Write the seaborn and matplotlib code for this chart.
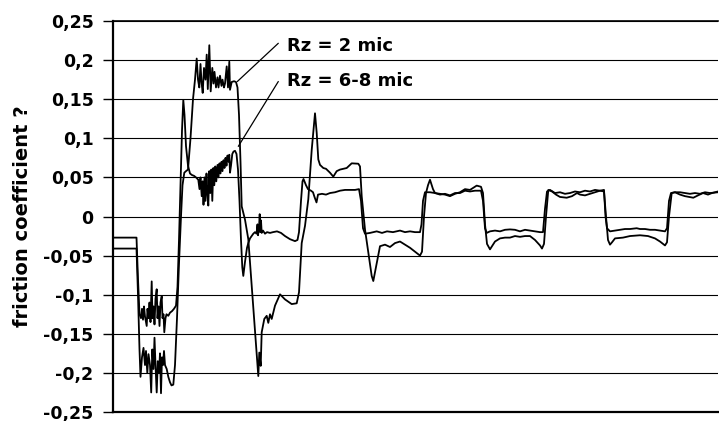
import matplotlib
matplotlib.use("Agg")
import matplotlib.pyplot as plt
import seaborn as sns
import pandas as pd

# ---- data (time in arbitrary units, friction coefficient) ----
t_rz2 = [0, 23.5, 25, 26.5, 27.5, 29, 30.5, 32, 33, 34.3, 35.5, 37, 38.2, 39.3, 40.5, 41.5, 42.5,
         43.7, 44.8, 46, 47, 48, 49, 50, 51, 52, 53.7, 55.3, 57, 58.5, 60.3, 62, 64, 66, 68, 69.5,
         71.3, 73, 75, 77.5, 80, 82, 83.7, 85, 86.3, 87.5, 88.5, 89.7, 91, 92.5, 93.7, 94.8, 96.3,
         97.7, 99.3, 100.5, 101.5, 103, 104.5, 105.5, 107, 108.5, 109.5, 111, 112, 113.7, 115,
         116.3, 117, 118.7, 121, 123, 124.5, 126, 127.5, 128.7, 132, 135.3, 138.7, 142, 145.3,
         146.3, 147.7, 148.7, 151.3, 153.7, 155.3, 157, 158.7, 162, 167, 172, 178.7, 183.7, 186,
         188.7, 192, 195.3, 198.7, 202, 203.7, 205.3, 207, 210.3, 213, 217, 220.3, 223.7, 227,
         233.7, 238.7, 245.3, 247, 248.7, 252, 255.3, 258.7, 260.3, 263.7, 267, 272, 277, 282,
         287, 292, 297, 302, 307, 309, 311, 313, 315, 317, 320, 322, 327, 332, 337, 342, 347, 352,
         357, 363.7, 368, 370, 372, 374, 377, 382, 387, 392, 397, 402, 407, 412, 417, 422, 427,
         429, 431, 433, 435.3, 439, 443, 447, 453.7, 459, 464, 467, 472, 477, 482, 487, 491, 493,
         495, 497, 499, 502, 510, 517, 527, 535, 542, 547, 552, 554, 556, 558.7, 562, 567, 572,
         580.3, 585, 590, 595, 599, 605]
mu_rz2 = [-0.041, -0.041, -0.10, -0.17, -0.205, -0.18, -0.168, -0.19, -0.172, -0.20, -0.176,
          -0.19, -0.225, -0.17, -0.195, -0.155, -0.19, -0.225, -0.185, -0.20, -0.175, -0.226,
          -0.18, -0.19, -0.172, -0.19, -0.195, -0.205, -0.212, -0.216, -0.215, -0.19, -0.13,
          -0.06, 0.0, 0.04, 0.056, 0.058, 0.06, 0.10, 0.15, 0.175, 0.202, 0.175, 0.165, 0.195,
          0.172, 0.158, 0.19, 0.175, 0.207, 0.163, 0.219, 0.16, 0.19, 0.17, 0.185, 0.165, 0.178,
          0.165, 0.18, 0.167, 0.175, 0.165, 0.17, 0.192, 0.165, 0.198, 0.162, 0.172, 0.173,
          0.172, 0.165, 0.13, 0.07, 0.013, -0.004, -0.029, -0.089, -0.148, -0.204, -0.174,
          -0.191, -0.148, -0.131, -0.127, -0.136, -0.125, -0.131, -0.114, -0.0995, -0.106,
          -0.112, -0.111, -0.097, -0.034, -0.012, 0.022, 0.085, 0.132, 0.107, 0.073, 0.066,
          0.062, 0.061, 0.056, 0.051, 0.058, 0.060, 0.062, 0.068, 0.0675, 0.064, 0.026, -0.0166,
          -0.046, -0.076, -0.0825, -0.06, -0.038, -0.036, -0.039, -0.034, -0.032, -0.036, -0.040,
          -0.045, -0.050, -0.045, 0.0, 0.030, 0.040, 0.047, 0.035, 0.030, 0.029, 0.028, 0.026,
          0.029, 0.031, 0.035, 0.034, 0.0395, 0.038, 0.030, -0.010, -0.035, -0.042, -0.032,
          -0.028, -0.027, -0.027, -0.025, -0.026, -0.025, -0.025, -0.030, -0.037, -0.041, -0.035,
          0.0, 0.034, 0.032, 0.028, 0.025, 0.024, 0.026, 0.030, 0.028, 0.027, 0.029, 0.031,
          0.033, 0.032, 0.0, -0.030, -0.036, -0.033, -0.028, -0.027, -0.025, -0.024, -0.025,
          -0.028, -0.032, -0.037, -0.033, 0.0, 0.030, 0.031, 0.028, 0.026, 0.024, 0.027, 0.030,
          0.028, 0.030, 0.032]

t_rz68 = [0, 23.5, 25, 26.5, 28, 29, 30, 31, 32, 33.7, 34.5, 35.5, 36.5, 37.5, 38.7, 39.5, 40.5,
          41.5, 42.5, 43.7, 44.5, 45.5, 46.5, 47.5, 48.7, 49.5, 50.5, 51.3, 52.5, 53.5, 55.3, 57,
          59, 61, 63, 64.5, 66, 67.5, 69, 70.3, 71.5, 73, 75, 77, 79, 81, 83, 85.3, 86.5, 87.5,
          88.7, 89.7, 90.5, 91.5, 92.5, 93.5, 94.5, 95.3, 96.3, 97.3, 98.3, 99.3, 100.3, 101.3,
          102.3, 103.3, 104.5, 105.5, 106.5, 107.5, 108.5, 109.5, 110.5, 111.5, 112.5, 113.5,
          114.5, 115.5, 116.3, 117, 118, 119.3, 120.5, 122, 123.5, 125, 126.5, 128, 129.3, 130.3,
          132, 134, 135.3, 137, 138.7, 140.3, 142, 143.5, 144.5, 145, 146, 146.7, 147.3, 148,
          148.7, 150, 152, 154, 157, 160, 164, 168, 172, 177, 182, 184.5, 186, 188, 189.5, 190.5,
          193, 195, 198, 200, 201.5, 203.5, 205, 209, 213, 217, 222, 227, 232, 237, 242, 246, 248,
          250, 252, 257, 263.7, 269, 274, 280, 287, 292, 297, 302, 307, 308.5, 310, 312, 317, 322,
          327, 332, 337, 342, 347, 352, 357, 362, 368, 370, 372, 373.7, 377, 382, 387, 392, 397,
          402, 407, 412, 417, 422, 427, 430, 432, 434, 437, 442, 447, 452, 457, 462, 467, 472,
          477, 482, 487, 491, 492.5, 494, 497, 502, 507, 512, 517, 523.7, 527, 532, 537, 542, 547,
          552, 554, 556, 558, 562, 567, 572, 577, 582, 587, 592, 597, 605]
mu_rz68 = [-0.027, -0.027, -0.08, -0.125, -0.13, -0.118, -0.132, -0.115, -0.128, -0.14, -0.118,
           -0.13, -0.11, -0.135, -0.083, -0.13, -0.115, -0.138, -0.105, -0.093, -0.13, -0.115,
           -0.14, -0.11, -0.102, -0.13, -0.125, -0.148, -0.13, -0.125, -0.127, -0.123, -0.121,
           -0.118, -0.114, -0.09, -0.03, 0.04, 0.11, 0.149, 0.13, 0.09, 0.065, 0.055, 0.053,
           0.052, 0.05, 0.047, 0.035, 0.05, 0.026, 0.045, 0.015, 0.05, 0.02, 0.055, 0.028, 0.014,
           0.058, 0.03, 0.06, 0.02, 0.062, 0.04, 0.064, 0.045, 0.066, 0.05, 0.068, 0.055, 0.07,
           0.058, 0.072, 0.062, 0.075, 0.065, 0.078, 0.07, 0.079, 0.056, 0.065, 0.08, 0.083,
           0.084, 0.08, 0.06, 0.02, -0.03, -0.065, -0.076, -0.058, -0.04, -0.034, -0.028, -0.025,
           -0.022, -0.020, -0.022, -0.01, -0.024, -0.015, 0.003, -0.02, -0.005, -0.021, -0.018,
           -0.022, -0.020, -0.021, -0.020, -0.019, -0.021, -0.025, -0.029, -0.0315, -0.03, -0.02,
           0.02, 0.045, 0.048, 0.040, 0.035, 0.033, 0.031, 0.025, 0.018, 0.028, 0.029, 0.028,
           0.030, 0.031, 0.033, 0.034, 0.034, 0.034, 0.035, 0.020, -0.015, -0.022, -0.021, -0.019,
           -0.021, -0.019, -0.020, -0.018, -0.020, -0.019, -0.020, -0.020, -0.010, 0.020, 0.031,
           0.031, 0.030, 0.028, 0.029, 0.027, 0.030, 0.030, 0.033, 0.032, 0.033, 0.033, 0.020,
           -0.015, -0.021, -0.019, -0.018, -0.019, -0.017, -0.0165, -0.017, -0.019, -0.017,
           -0.018, -0.019, -0.020, -0.020, 0.010, 0.032, 0.034, 0.030, 0.031, 0.029, 0.030, 0.032,
           0.031, 0.033, 0.032, 0.034, 0.033, 0.034, 0.0, -0.015, -0.019, -0.018, -0.017, -0.016,
           -0.016, -0.015, -0.016, -0.016, -0.017, -0.017, -0.018, -0.019, -0.015, 0.020, 0.030,
           0.031, 0.031, 0.030, 0.029, 0.030, 0.029, 0.031, 0.030, 0.031]

series_names = ["Rz = 2 mic", "Rz = 6-8 mic"]
y_ticks = [-0.25, -0.2, -0.15, -0.1, -0.05, 0, 0.05, 0.1, 0.15, 0.2, 0.25]
y_tick_labels = ["-0,25", "-0,2", "-0,15", "-0,1", "-0,05", "0", "0,05", "0,1", "0,15", "0,2", "0,25"]
y_label = "friction coefficient ?"

# annotation anchors (text position, leader line end on the curve)
ann_text_xy = [(174, 0.2117), (174, 0.167)]
ann_line_start = [(165.3, 0.2215), (165.3, 0.1726)]
ann_line_end = [(124.3, 0.1726), (125.3, 0.0897)]

df = pd.DataFrame({
    "t": t_rz2 + t_rz68,
    "mu": mu_rz2 + mu_rz68,
    "surface": [series_names[0]] * len(t_rz2) + [series_names[1]] * len(t_rz68),
})

sns.set_style("white")
plt.rcParams["font.family"] = ["DejaVu Sans"]
plt.rcParams["text.color"] = "black"
plt.rcParams["axes.labelcolor"] = "black"

fig = plt.figure(figsize=(7.19, 4.21), dpi=100)
ax = fig.add_axes([113 / 719, 1 - 412 / 421, 605 / 719, 391 / 421])

sns.lineplot(data=df, x="t", y="mu", hue="surface", palette=["black", "black"],
             sort=False, estimator=None, legend=False, linewidth=1.3, ax=ax, zorder=3)

ax.set_xlim(0, 605)
ax.set_ylim(-0.25, 0.25)
ax.set_yticks(y_ticks)
ax.set_yticklabels(y_tick_labels, fontsize=12.5, fontweight="bold", color="black")
ax.set_xticks([])
ax.tick_params(axis="y", direction="out", length=7, width=1, pad=7, left=True,
               colors="black", labelcolor="black")
ax.grid(axis="y", color="black", linewidth=0.8)
ax.set_axisbelow(True)

for side in ["left", "bottom"]:
    ax.spines[side].set_linewidth(1.6)
    ax.spines[side].set_color("black")
ax.spines["top"].set_linewidth(1.2)
ax.spines["top"].set_color("black")
ax.spines["right"].set_visible(False)

ax.set_xlabel("")
ax.set_ylabel(y_label, fontsize=14, fontweight="bold", color="black")
ax.yaxis.set_label_coords(-0.134, 0.5)

for name, txy, ls, le in zip(series_names, ann_text_xy, ann_line_start, ann_line_end):
    ax.text(txy[0], txy[1], name, fontsize=13, fontweight="bold", ha="left",
            va="baseline", color="black")
    ax.plot([ls[0], le[0]], [ls[1], le[1]], color="black", linewidth=0.9)

fig.savefig("out.png", dpi=100)
